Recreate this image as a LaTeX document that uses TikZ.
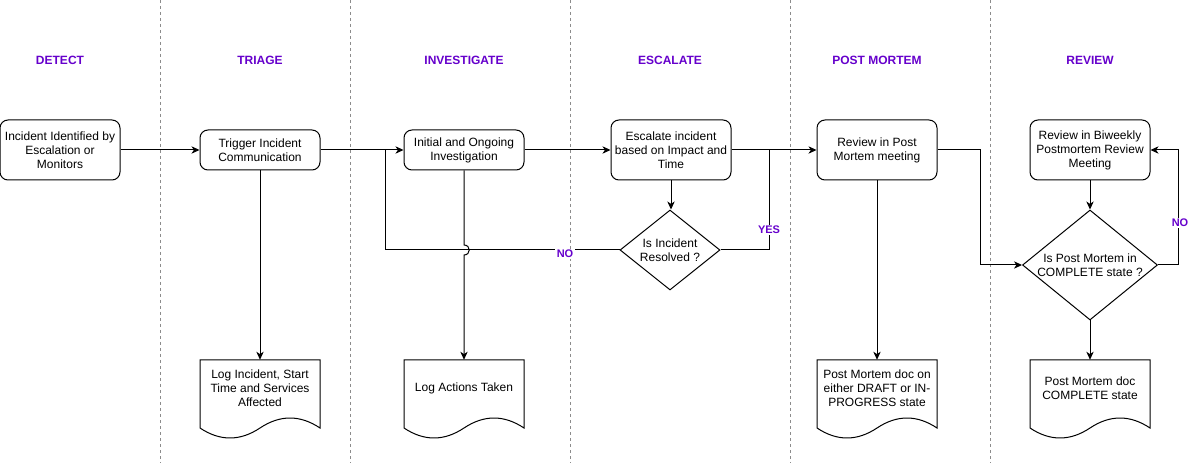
\documentclass[tikz,border=0pt]{standalone}
\usepackage{fontspec}
\setmainfont{Liberation Sans}
\usetikzlibrary{arrows.meta,shapes.geometric,calc}
\definecolor{hdr}{HTML}{6600CC}
\tikzset{
  txt/.style={font=\fontsize{9}{10.5}\selectfont, align=center},
  rbox/.style={txt, draw, line width=0.75pt, rounded corners=6pt, minimum width=90pt, inner sep=0pt},
  dbox/.style={txt, minimum width=90pt, minimum height=42pt, inner sep=0pt},
  dia/.style={draw, line width=0.75pt, shape=diamond, inner sep=0pt},
  conn/.style={line width=0.75pt},
  arr/.style={conn, -{Stealth[length=6pt,width=5.5pt,inset=1.8pt]}},
  hdrtxt/.style={font=\fontsize{9}{11}\selectfont\bfseries, text=hdr},
  lbl/.style={font=\fontsize{8.25}{10}\selectfont\bfseries, text=hdr, fill=white, inner sep=1pt},
  lane/.style={draw=gray!90, line width=0.6pt, dash pattern=on 2.25pt off 2.25pt},
  docline/.style={line width=0.75pt}
}
\newcommand\docshape[2]{%
  \draw[docline] (#1,#2) -- (#1+120,#2) -- (#1+120,#2+68)
    .. controls (#1+100,#2+54.67) and (#1+80,#2+54.67) .. (#1+60,#2+68)
    .. controls (#1+40,#2+81.33) and (#1+20,#2+81.33) .. (#1,#2+68) -- cycle;}
\begin{document}
\begin{tikzpicture}[x=0.75pt,y=-0.75pt]
\useasboundingbox[fill=white] (0,0) rectangle (1189,463);
% lanes
\foreach \lx in {160.5,350.5,570.5,790.5,990.5}{\draw[lane] (\lx,0) -- (\lx,463);}
% headers
\node[hdrtxt] (h1) at (60,60) {DETECT};
\node[hdrtxt] (h2) at (260,60) {TRIAGE};
\node[hdrtxt] (h3) at (464,60) {INVESTIGATE};
\node[hdrtxt] (h4) at (670,60) {ESCALATE};
\node[hdrtxt] (h5) at (877,60) {POST MORTEM};
\node[hdrtxt] (h6) at (1090,60) {REVIEW};
% process boxes
\node[rbox, minimum height=45pt] (inc) at (60,150) {Incident Identified by\\Escalation or\\Monitors};
\node[rbox, minimum height=30pt] (trig) at (260,150) {Trigger Incident\\Communication};
\node[rbox, minimum height=30pt] (inv) at (464,150) {Initial and Ongoing\\Investigation};
\node[rbox, minimum height=45pt] (esc) at (671,150) {Escalate incident\\based on Impact and\\Time};
\node[rbox, minimum height=45pt] (pm) at (877,150) {Review in Post\\Mortem meeting};
\node[rbox, minimum height=45pt] (bi) at (1090,150) {Review in Biweekly\\Postmortem Review\\Meeting};
% decisions
\node[dia, minimum width=75pt, minimum height=60pt,
  label={[txt]center:Is Incident\\Resolved ?}] (d1) at (670,250) {};
\node[dia, minimum width=101.25pt, minimum height=82.5pt,
  label={[txt]center:Is Post Mortem in\\COMPLETE state ?}] (d2) at (1090,265) {};
% documents
\docshape{200}{360}
\node[dbox] (log1) at (260,388) {Log Incident, Start\\Time and Services\\Affected};
\docshape{404}{360}
\node[dbox] (log2) at (464,388) {Log Actions Taken};
\docshape{817}{360}
\node[dbox] (doc3) at (877,388) {Post Mortem doc on\\either DRAFT or IN-\\PROGRESS state};
\docshape{1030}{360}
\node[dbox] (doc4) at (1090,388) {Post Mortem doc\\COMPLETE state};
% junctions
\coordinate (noj) at (385,150);
\coordinate (yesj) at (769,150);
% connectors
\draw[arr] (inc.east) -- (trig.west);
\draw[arr] (trig.east) -- (inv.west);
\draw[arr] (inv.east) -- (esc.west);
\draw[arr] (esc.east) -- (pm.west);
\draw[arr] (trig.south) -- (log1.north);
\draw[conn] (d1.west) -| (noj);
\draw[arr] (inv.south) -- (464,245) .. controls (471,245) and (471,255) .. (464,255) -- (log2.north);
\draw[arr] (esc.south) -- (esc.south |- d1.north);
\draw[conn] (d1.east) -| (yesj);
\draw[arr] (pm.east) -- (980,150) |- (d2.west);
\draw[arr] (pm.south) -- (doc3.north);
\draw[arr] (bi.south) -- (d2.north);
\draw[arr] (d2.south) -- (doc4.north);
\draw[arr] (d2.east) -- (1178,265) |- (bi.east);
% labels
\node[lbl] (lno1) at (565,254) {NO};
\node[lbl] (lyes) at (769,230) {YES};
\node[lbl] (lno2) at (1180,223) {NO};
\end{tikzpicture}
\end{document}
